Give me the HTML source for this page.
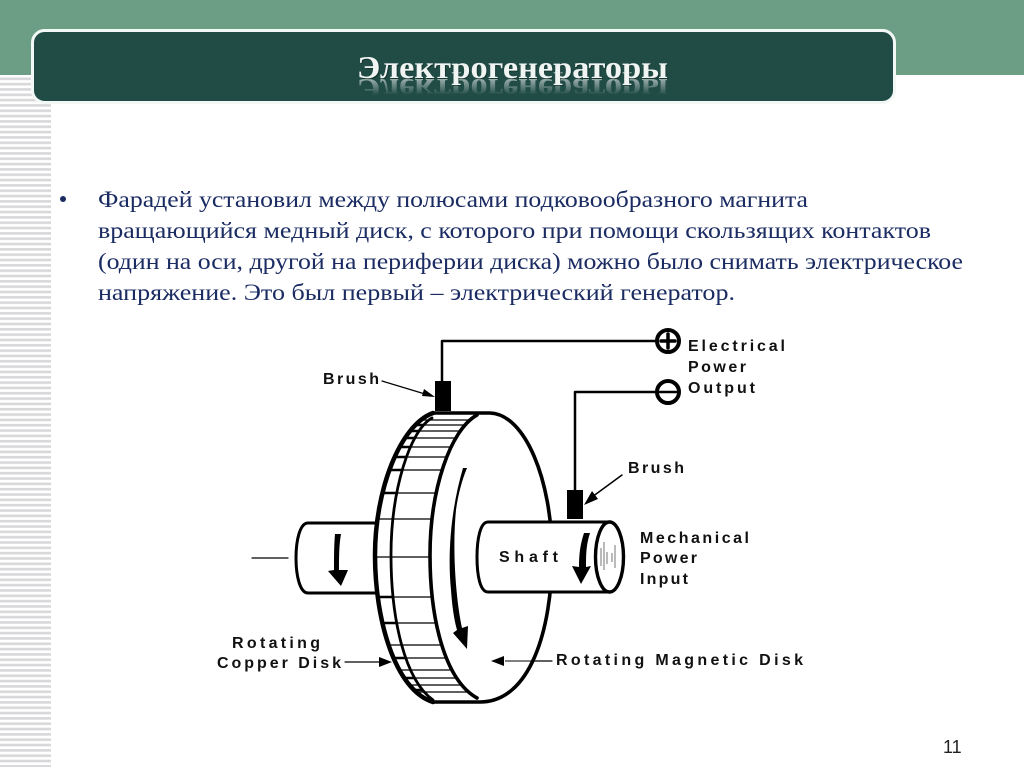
<!DOCTYPE html>
<html><head><meta charset="utf-8"><style>html,body{margin:0;padding:0;background:#fff;overflow:hidden}svg{display:block}</style></head>
<body>
<svg width="1024" height="767" viewBox="0 0 1024 767" xmlns="http://www.w3.org/2000/svg">
<defs>
<pattern id="st" width="5" height="5.33" patternUnits="userSpaceOnUse" y="76"><rect width="5" height="2.6" y="1.5" fill="#d8d8da"/></pattern>
<linearGradient id="fade" gradientUnits="userSpaceOnUse" x1="0" y1="79" x2="0" y2="63"><stop offset="0" stop-color="#fff" stop-opacity=".55"/><stop offset="1" stop-color="#fff" stop-opacity="0"/></linearGradient>
<clipPath id="rim"><path d="M433 413C400 425 375 490 375 555C375 620 395 690 433 702L477 698C445 680 430 620 430 555C430 490 450 430 477 415Z"/></clipPath>
<clipPath id="rimL"><path d="M433 413C400 425 375 490 375 555C375 620 395 690 433 702L433 700C405 680 391 620 391 555C391 490 410 430 432 418Z"/></clipPath>
</defs>
<rect x="0" y="76" width="51" height="691" fill="url(#st)"/>
<rect width="1024" height="75" fill="#6b9e85"/>
<rect x="32.5" y="30.5" width="862" height="72" rx="12" fill="#214c46" stroke="#f1f8f5" stroke-width="3"/>
<text transform="translate(0,158) scale(1,-1)" x="357" y="79" textLength="311" lengthAdjust="spacingAndGlyphs" font-family="'Liberation Serif',serif" font-weight="bold" font-size="32" fill="url(#fade)">Электрогенераторы</text>
<text x="358" y="79" textLength="311" lengthAdjust="spacingAndGlyphs" font-family="'Liberation Serif',serif" font-weight="bold" font-size="32" fill="#0c2723" opacity=".6">Электрогенераторы</text>
<text x="357" y="78" textLength="311" lengthAdjust="spacingAndGlyphs" font-family="'Liberation Serif',serif" font-weight="bold" font-size="32" fill="#f0f4f2">Электрогенераторы</text>
<g font-family="'Liberation Serif',serif" font-size="23.500" fill="#1b2c63">
<circle cx="63" cy="199" r="3" fill="#1b2c63"/>
<text x="98" y="207" textLength="710" lengthAdjust="spacingAndGlyphs">Фарадей установил между полюсами подковообразного магнита</text>
<text x="98" y="238" textLength="833" lengthAdjust="spacingAndGlyphs">вращающийся медный диск, с которого при помощи скользящих контактов</text>
<text x="98" y="269" textLength="865" lengthAdjust="spacingAndGlyphs">(один на оси, другой на периферии диска) можно было снимать электрическое</text>
<text x="98" y="300" textLength="637" lengthAdjust="spacingAndGlyphs">напряжение. Это был первый –  электрический генератор.</text>
</g>
<g fill="none" stroke="#000" stroke-linecap="round" stroke-linejoin="round">
<path d="M442 381V341H656" stroke-width="2.5"/>
<path d="M575 490V392H657" stroke-width="2.5"/>
<circle cx="668" cy="341" r="11" stroke-width="4"/>
<path d="M661 341H675M668 334V348" stroke-width="3.5"/>
<circle cx="668" cy="392" r="11" stroke-width="4"/>
<path d="M660 392H676" stroke-width="2.5"/>
<path d="M382 381L425 394" stroke-width="1.2"/>
<path d="M622 475L592 497" stroke-width="1.5"/>
<path d="M252 558H288" stroke-width="1.2"/>
<path d="M345 662H380" stroke-width="1.2"/>
<path d="M552 661H500" stroke-width="1.2"/>
</g>
<rect x="435" y="381" width="16" height="30" fill="#000"/>
<path d="M435 397L424 389L422 396Z M584 505L592 491L598 499Z M392 662L379 657V667Z" fill="#000"/>
<!-- left shaft -->
<path d="M375 523H308C300 523 296 540 296 558C296 576 300 593 308 593H378" fill="#fff" stroke="#000" stroke-width="3"/>
<!-- disk -->
<path d="M433 413H490C525 414 552 480 552 555C552 630 530 702 480 702H433C395 690 375 620 375 555C375 490 400 425 433 413Z" fill="#fff"/>
<g clip-path="url(#rim)" stroke="#000">
<path d="M370 420H480M370 425H480M370 431H480M370 438H480M370 447H480M370 457H480M370 470H480M370 493H480M370 519H480M370 557H480M370 597H480M370 623H480M370 645H480M370 658H480M370 670H480M370 678H480M370 685H480M370 692H480" stroke-width="1.2"/>
</g>
<g clip-path="url(#rimL)" stroke="#000"><path d="M370 425H480M370 431H480M370 438H480M370 447H480M370 457H480M370 470H480M370 493H480M370 597H480M370 623H480M370 658H480M370 678H480M370 690H480" stroke-width="2.6"/></g>
<g fill="none" stroke="#000" stroke-linecap="round">
<path d="M433 413C400 425 375 490 375 555C375 620 395 690 433 702" stroke-width="4.500"/>
<path d="M432 418C410 430 391 490 391 555C391 620 405 680 433 700" stroke-width="2.8"/>
<path d="M477 415C450 430 430 490 430 555C430 620 445 680 477 698" stroke-width="3.6"/>
<path d="M433 413H490C525 414 552 480 552 555C552 630 530 702 480 702H433" stroke-width="3.6"/>
</g>
<path d="M467 468L463 468C452 505 447 550 451 590C452 605 454 620 457 630L453 633L467 649L468 626L462 628C456 600 452 550 456 510C458 495 462 480 467 468Z" fill="#000"/>
<!-- right shaft -->
<path d="M610 522H488C480 522 477 540 477 557C477 575 480 592 488 592H610Z" fill="#fff" stroke="#000" stroke-width="3"/>
<ellipse cx="609.500" cy="557" rx="14" ry="35" fill="#fff" stroke="#000" stroke-width="3.400"/>
<path d="M601 548V566M604 542V570M607 552V564M612 553V562M615 545V568" stroke="#555" stroke-width=".8" fill="none"/>
<rect x="567" y="490" width="16" height="29" fill="#000"/>
<path d="M584 533L590 533C586 545 586 555 586 567L591 566L581 584L572 566L579 567C579 555 580 545 584 533Z" fill="#000"/>
<path d="M335 534L341 534C339 545 339 558 339 570L348 570L341 586L328 571L334 570C334 558 334 545 335 534Z" fill="#000"/>
<path d="M491 661L504 656V666Z" fill="#000"/>
<path d="M552 661H505" stroke="#000" stroke-width="1"/>
<g font-family="'Liberation Sans',sans-serif" font-weight="bold" font-size="16" fill="#111">
<text x="323" y="384" textLength="56">Brush</text>
<text x="688" y="351" textLength="97">Electrical</text>
<text x="688" y="372" textLength="58">Power</text>
<text x="688" y="393" textLength="67">Output</text>
<text x="628" y="473" textLength="56">Brush</text>
<text x="640" y="543" textLength="109">Mechanical</text>
<text x="640" y="563" textLength="57">Power</text>
<text x="640" y="584" textLength="48">Input</text>
<text x="499" y="562" textLength="59">Shaft</text>
<text x="232" y="648" textLength="88">Rotating</text>
<text x="217" y="668" textLength="124">Copper Disk</text>
<text x="556" y="665" textLength="247">Rotating Magnetic Disk</text>
</g>
<text x="943" y="753" font-family="'Liberation Sans',sans-serif" font-size="18" fill="#222">11</text>
</svg>
</body></html>
